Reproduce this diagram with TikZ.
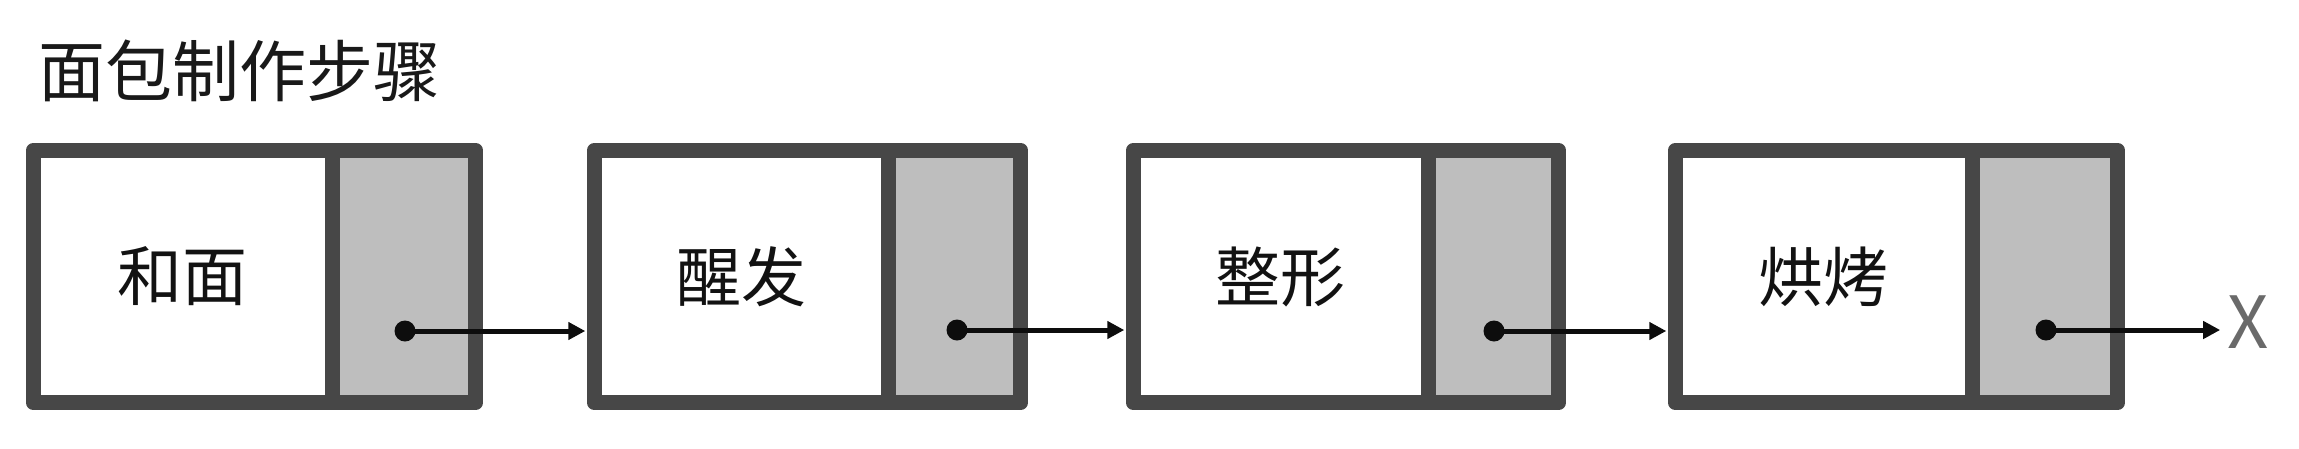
\documentclass[tikz,border=0pt]{standalone}
\usepackage{fontspec}
\setmainfont{Noto Sans CJK SC}
\usetikzlibrary{arrows.meta}

\definecolor{framegray}{HTML}{474747}
\definecolor{ptrgray}{HTML}{BEBEBE}
\definecolor{nilgray}{HTML}{6A6A6A}

\begin{document}
\begin{tikzpicture}[x=1pt, y=1pt]
                \tikzstyle{datacell}=[inner sep=0pt, minimum height=252pt, font=\fontsize{65}{78}\selectfont, text=black!93]
                \tikzstyle{ptrcell}=[inner sep=0pt, minimum height=252pt, fill=ptrgray]
                \tikzstyle{boxframe}=[draw=framegray, line width=15pt, line join=round]
                \tikzstyle{ptrdot}=[circle, fill=black!95, inner sep=0pt, minimum size=21pt]
                \tikzstyle{link}=[draw=black!95, line width=5pt, -{Triangle[length=17pt,width=17pt]}, shorten >=9pt]

                \useasboundingbox (0,0) rectangle (2299,-448);

                \node[anchor=base west, inner sep=0pt, font=\fontsize{67}{80}\selectfont, text=black!90] (title) at (38,-96) {面包制作步骤};

                % node 1
                \node[datacell, minimum width=298.5pt] (d1) at (182.75,-276.5) {和面};
                \node[ptrcell, minimum width=143.5pt] (p1) at (403.75,-276.5) {};
                \draw[boxframe] (d1.north west) rectangle (p1.south east);
                \draw[boxframe] (d1.north east) -- (d1.south east);
                \node[ptrdot] (dot1) at (405,-331) {};

                % node 2
                \node[datacell, minimum width=293.5pt] (d2) at (741.25,-276.5) {醒发};
                \node[ptrcell, minimum width=132.5pt] (p2) at (954.25,-276.5) {};
                \draw[boxframe] (d2.north west) rectangle (p2.south east);
                \draw[boxframe] (d2.north east) -- (d2.south east);
                \node[ptrdot] (dot2) at (957,-330) {};

                % node 3
                \node[datacell, minimum width=294.5pt] (d3) at (1280.75,-276.5) {整形};
                \node[ptrcell, minimum width=130.5pt] (p3) at (1493.25,-276.5) {};
                \draw[boxframe] (d3.north west) rectangle (p3.south east);
                \draw[boxframe] (d3.north east) -- (d3.south east);
                \node[ptrdot] (dot3) at (1494,-331) {};

                % node 4
                \node[datacell, minimum width=296.5pt] (d4) at (1823.75,-276.5) {烘烤};
                \node[ptrcell, minimum width=145.5pt] (p4) at (2044.75,-276.5) {};
                \draw[boxframe] (d4.north west) rectangle (p4.south east);
                \draw[boxframe] (d4.north east) -- (d4.south east);
                \node[ptrdot] (dot4) at (2046,-330) {};

                \node[inner xsep=7pt, inner ysep=0pt, font=\fontsize{72}{86}\selectfont, text=nilgray] (nil) at (2248,-322) {X};

                \draw[link] (dot1.center) -- (dot1 -| d2.west);
                \draw[link] (dot2.center) -- (dot2 -| d3.west);
                \draw[link] (dot3.center) -- (dot3 -| d4.west);
                \draw[link, shorten >=0pt] (dot4.center) -- (dot4 -| nil.west);
\end{tikzpicture}
\end{document}
